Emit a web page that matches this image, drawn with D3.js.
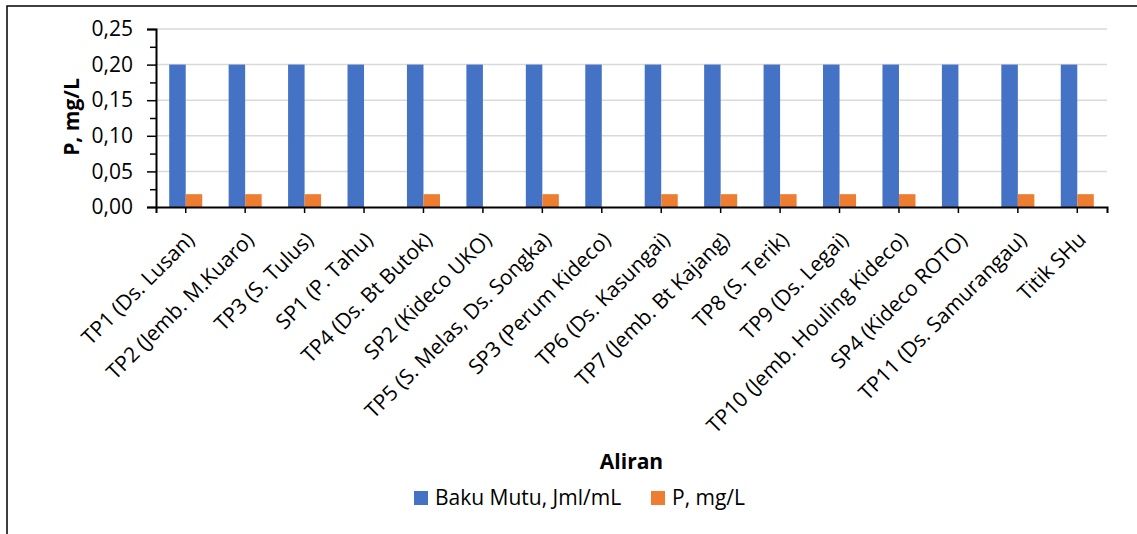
<!DOCTYPE html>
<html>
<head>
<meta charset="utf-8">
<script src="https://cdn.jsdelivr.net/npm/d3@7"></script>
<style>
  body { margin: 0; background: #fff; }
  text { font-family: 'Open Sans', sans-serif; fill: #000; }
</style>
</head>
<body>
<div id="chart"></div>
<script>
'use strict';

// data
const categories = [
  'TP1 (Ds. Lusan)', 'TP2 (Jemb. M.Kuaro)', 'TP3 (S. Tulus)', 'SP1 (P. Tahu)',
  'TP4 (Ds. Bt Butok)', 'SP2 (Kideco UKO)', 'TP5 (S. Melas, Ds. Songka)', 'SP3 (Perum Kideco)',
  'TP6 (Ds. Kasungai)', 'TP7 (Jemb. Bt Kajang)', 'TP8 (S. Terik)', 'TP9 (Ds. Legai)',
  'TP10 (Jemb. Houling Kideco)', 'SP4 (Kideco ROTO)', 'TP11 (Ds. Samurangau)', 'Titik SHu'
];
const seriesNames = ['Baku Mutu, Jml/mL', 'P, mg/L'];
const bakuMutu = [0.2, 0.2, 0.2, 0.2, 0.2, 0.2, 0.2, 0.2, 0.2, 0.2, 0.2, 0.2, 0.2, 0.2, 0.2, 0.2];
const pValues = [0.018, 0.018, 0.018, 0, 0.018, 0, 0.018, 0, 0.018, 0.018, 0.018, 0.018, 0.018, 0, 0.018, 0.018];
const yTicks = [0, 0.05, 0.10, 0.15, 0.20, 0.25];
const yMinorTicks = [0.025, 0.075, 0.125, 0.175, 0.225];
const colors = ['#4472C4', '#ED7D31'];

const W = 1137, H = 534;
const plot = { left: 156, right: 1107, top: 29, bottom: 207 };
const fontSize = 21;

const svg = d3.select('#chart')
    .append('svg')
    .attr('width', W)
    .attr('height', H);

svg.append('rect')
    .attr('width', W)
    .attr('height', H)
    .attr('fill', '#fff');

// chart frame (cropped on the right and bottom)
svg.append('path')
    .attr('d', `M7,${H} V6 H${W}`)
    .attr('fill', 'none')
    .attr('stroke', '#000')
    .attr('stroke-width', 1.5);

const x0 = d3.scaleBand()
    .domain(categories)
    .range([plot.left, plot.right])
    .paddingInner(0)
    .paddingOuter(0);

const x1 = d3.scaleBand()
    .domain(seriesNames)
    .range([0, x0.bandwidth()])
    .paddingInner(0)
    .paddingOuter(0.8);

const y = d3.scaleLinear()
    .domain([0, 0.25])
    .range([plot.bottom, plot.top]);

const locale = d3.formatLocale({ decimal: ',', thousands: '.', grouping: [3], currency: ['', ''] });
const fmt = locale.format('.2f');

// gridlines
svg.append('g')
  .selectAll('line')
  .data(yTicks.filter(d => d > 0))
  .join('line')
    .attr('x1', plot.left)
    .attr('x2', plot.right)
    .attr('y1', d => y(d))
    .attr('y2', d => y(d))
    .attr('stroke', '#d9d9d9')
    .attr('stroke-width', 1.5);

// bars
const rows = categories.map((c, i) => ({ cat: c, values: [bakuMutu[i], pValues[i]] }));

svg.append('g')
  .selectAll('g')
  .data(rows)
  .join('g')
    .attr('transform', d => `translate(${x0(d.cat)},0)`)
  .selectAll('rect')
  .data(d => d.values.map((v, k) => ({ key: seriesNames[k], value: v, k })))
  .join('rect')
    .attr('x', d => x1(d.key))
    .attr('width', x1.bandwidth())
    .attr('y', d => y(d.value))
    .attr('height', d => y(0) - y(d.value))
    .attr('fill', d => colors[d.k]);

// y axis, major + minor ticks
const yAxis = svg.append('g')
    .attr('transform', `translate(${plot.left},0)`)
    .call(d3.axisLeft(y).tickValues(yTicks).tickFormat(fmt).tickSize(9).tickPadding(14));
yAxis.select('.domain').attr('stroke-width', 2);
yAxis.selectAll('.tick line').attr('stroke-width', 1.5);
yAxis.selectAll('text').attr('font-size', fontSize).style('font-family', "'Open Sans', sans-serif");

svg.append('g')
    .attr('transform', `translate(${plot.left},0)`)
    .call(d3.axisLeft(y).tickValues(yMinorTicks).tickFormat('').tickSize(6))
    .call(g => g.select('.domain').remove())
    .selectAll('.tick line').attr('stroke-width', 1.5);

// x axis
const xAxis = svg.append('g')
    .attr('transform', `translate(0,${plot.bottom})`)
    .call(d3.axisBottom(x0).tickSize(6).tickSizeOuter(6));
xAxis.select('.domain').attr('stroke-width', 2);
xAxis.selectAll('.tick line').attr('stroke-width', 1.5);
xAxis.selectAll('text')
    .attr('font-size', fontSize)
    .style('font-family', "'Open Sans', sans-serif")
    .attr('text-anchor', 'end')
    .attr('x', 0)
    .attr('y', 0)
    .attr('dy', 0)
    .attr('transform', 'translate(10,34) rotate(-45)');

// axis titles
svg.append('text')
    .attr('transform', 'translate(79,117) rotate(-90)')
    .attr('text-anchor', 'middle')
    .attr('font-size', fontSize)
    .attr('font-weight', 'bold')
    .text('P, mg/L');

svg.append('text')
    .attr('x', (plot.left + plot.right) / 2)
    .attr('y', 469)
    .attr('text-anchor', 'middle')
    .attr('font-size', fontSize)
    .attr('font-weight', 'bold')
    .text('Aliran');

// legend
const legendX = [414, 651];
const legend = svg.append('g')
  .selectAll('g')
  .data(seriesNames)
  .join('g')
    .attr('transform', (d, i) => `translate(${legendX[i]},491)`);

legend.append('rect')
    .attr('width', 14)
    .attr('height', 14)
    .attr('fill', (d, i) => colors[i]);

legend.append('text')
    .attr('x', 21)
    .attr('y', 14)
    .attr('font-size', fontSize)
    .text(d => d);
</script>
</body>
</html>
